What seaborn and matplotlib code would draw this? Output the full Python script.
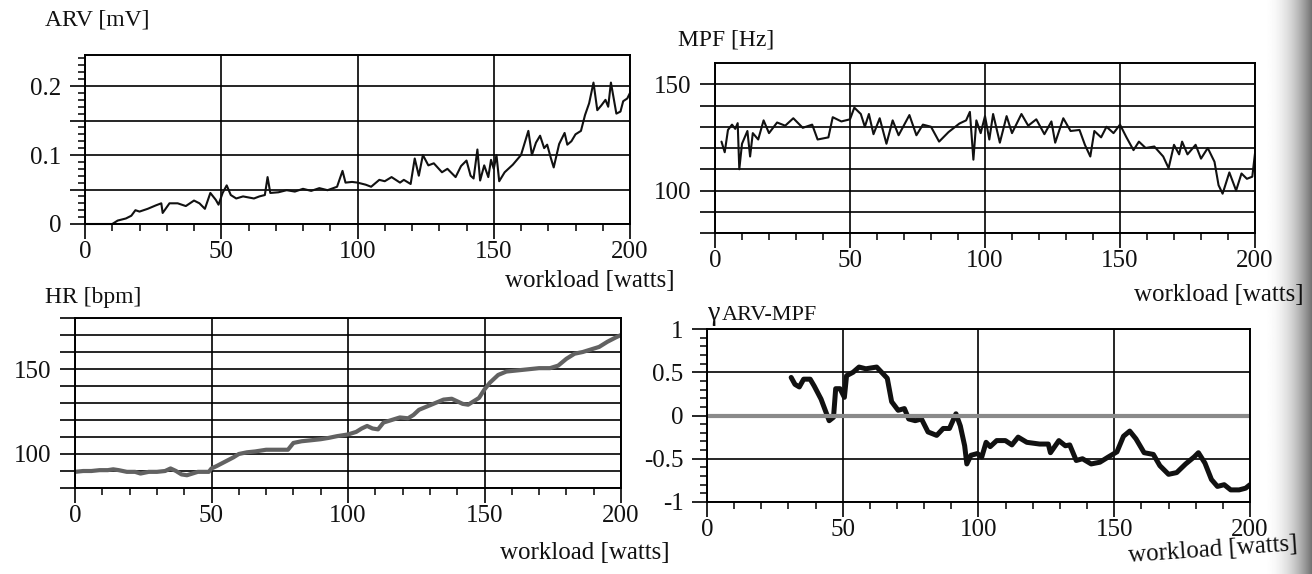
import numpy as np
import matplotlib
matplotlib.use("Agg")
import matplotlib.pyplot as plt
import seaborn as sns

# workload [watts] vs. signal values
arv_x = [0, 5, 10, 12, 15, 17, 18.5, 20, 23, 26, 28, 28.5, 31, 34, 37, 40, 42, 44, 46, 48,
         49, 50.5, 52, 53.5, 55.5, 58, 62, 64, 66, 67, 68, 71, 74, 77, 80, 83, 86, 89, 92.5,
         94.5, 95.6, 98, 100, 103, 105, 108, 110, 112.5, 115.6, 117, 119.5, 121, 122.5, 124,
         126, 128, 131, 133, 136, 138, 140, 141.5, 142.6, 144, 145, 146.5, 148, 149, 150, 151,
         152, 154, 157, 160, 162.7, 164, 165.5, 167, 168.5, 169.6, 171, 172, 174, 176, 177,
         178.5, 180, 182, 183.5, 185, 186.6, 188, 189.5, 191, 192, 193, 195, 196.5, 197.5,
         199, 200]
arv_y = [0.0, 0.0, 0.0, 0.005, 0.008, 0.012, 0.02, 0.018, 0.022, 0.027, 0.03, 0.016, 0.03,
         0.03, 0.026, 0.034, 0.03, 0.022, 0.045, 0.035, 0.028, 0.045, 0.056, 0.042, 0.037,
         0.04, 0.037, 0.04, 0.042, 0.068, 0.045, 0.046, 0.049, 0.047, 0.051, 0.048, 0.052,
         0.049, 0.054, 0.077, 0.06, 0.061, 0.06, 0.057, 0.054, 0.064, 0.062, 0.068, 0.06,
         0.064, 0.058, 0.095, 0.07, 0.1, 0.085, 0.088, 0.075, 0.08, 0.068, 0.084, 0.092, 0.07,
         0.066, 0.108, 0.063, 0.085, 0.068, 0.093, 0.08, 0.1, 0.062, 0.075, 0.086, 0.1, 0.135,
         0.1, 0.118, 0.128, 0.11, 0.115, 0.095, 0.082, 0.116, 0.132, 0.115, 0.12, 0.13, 0.135,
         0.158, 0.175, 0.205, 0.165, 0.172, 0.18, 0.17, 0.205, 0.16, 0.163, 0.178, 0.182, 0.19]

mpf_x = [2.4, 3.6, 4.8, 6.3, 7.5, 8.4, 9, 10, 12, 13, 14, 16, 18, 20, 23, 26, 29, 32.5, 36,
         38, 42, 43.6, 46.8, 50, 51.6, 54, 55.5, 57, 58.7, 61, 63.5, 65.8, 68, 72, 74.6, 77,
         80, 83, 86.5, 90.5, 93, 94.4, 95.7, 96.8, 98.4, 100, 101.6, 103, 105.5, 108, 110,
         113.5, 116, 119, 122, 124.6, 126, 129, 131.7, 135, 137, 139, 140.5, 143, 145, 147.6,
         150, 152.4, 155, 157, 159.5, 162.7, 166, 168, 170, 171.9, 173, 175, 178, 180, 182.5,
         185, 186.5, 188, 190.5, 193, 195, 197, 199, 200]
mpf_y = [123, 118, 128.5, 131, 129, 131.7, 110, 122, 128, 116, 127, 124, 133, 127, 132,
         130.5, 134, 129.5, 131, 124, 125, 134.5, 132.5, 133.5, 139, 136, 130, 136, 126.5,
         134, 122, 133, 126, 135.5, 126, 131, 130, 123, 127.5, 131.5, 133, 137, 114.5, 133,
         127, 135, 124, 136, 122.5, 135, 127, 136, 130.5, 133.5, 126.5, 132.5, 122.5, 134,
         128, 128.5, 121.5, 116, 128, 125, 130, 127, 131, 125, 119, 123, 120, 120.7, 116,
         110.5, 121.5, 117, 123, 117, 121.5, 115, 120, 113.5, 102.5, 98.5, 108.5, 100, 108,
         105.5, 106.5, 117.5]

hr_x = [0, 3, 6, 9, 12, 14, 16, 19, 22, 24, 27, 30, 33, 35, 37, 39, 41, 43, 45, 47, 49, 50,
        52, 55, 58, 60, 63, 66, 70, 74, 78, 80, 83, 86, 90, 93, 96, 100, 103, 105, 107, 109,
        111, 113, 116, 119, 122, 124, 126, 129, 132, 135, 138, 140, 142, 144, 146, 148, 150,
        152, 155, 158, 161, 164, 167, 170, 174, 177, 180, 183, 186, 189, 192, 195, 198, 200]
hr_y = [89.5, 90, 90, 90.5, 90.5, 91, 90.5, 89.5, 89.5, 88.5, 89.5, 89.5, 90, 91.5, 90, 88,
        87.5, 88.5, 89.5, 89.5, 89.5, 91.5, 93, 95.5, 98, 100, 101, 101.5, 102.5, 102.5,
        102.5, 106.5, 107.5, 108, 108.7, 109.5, 110.5, 111.5, 113, 115, 116.5, 115, 114.5,
        118.5, 120, 121.5, 121, 123, 126, 128, 130, 132, 132.5, 131, 129.5, 129, 131, 133,
        138, 142, 146.5, 148.5, 149, 149.5, 150, 150.5, 150.5, 152, 156, 159, 160, 161.5,
        163, 166, 168.5, 170]

gam_x = [31, 32.4, 34, 35.6, 38, 39.5, 42, 45, 46.6, 47.4, 49, 50.6, 51.4, 53.8, 56, 58.5,
         62.5, 64, 66.4, 68, 70.4, 72.7, 74.3, 76.7, 79, 81.4, 84.6, 87, 89.3, 91.7, 93.3,
         94.9, 95.7, 97.2, 99.6, 101.2, 102.8, 104.3, 106.7, 109.9, 112.3, 114.6, 117.8,
         122.5, 125.7, 126.5, 129.6, 132, 133.6, 136, 138.3, 141.5, 144.7, 147.8, 151, 153.4,
         155.7, 158, 161, 164.4, 166.8, 170, 173, 176.3, 179.4, 181, 183.4, 185.8, 188,
         190.5, 192.9, 196, 198.4, 200]
gam_y = [0.44, 0.36, 0.33, 0.42, 0.42, 0.34, 0.19, -0.06, -0.02, 0.31, 0.31, 0.21, 0.46,
         0.5, 0.56, 0.54, 0.56, 0.51, 0.43, 0.16, 0.06, 0.08, -0.04, -0.06, -0.04, -0.19,
         -0.23, -0.15, -0.15, 0.02, -0.12, -0.35, -0.56, -0.46, -0.44, -0.48, -0.31, -0.36,
         -0.29, -0.29, -0.34, -0.25, -0.31, -0.33, -0.33, -0.43, -0.29, -0.35, -0.34, -0.52,
         -0.5, -0.56, -0.54, -0.48, -0.42, -0.24, -0.18, -0.27, -0.43, -0.45, -0.58, -0.68,
         -0.66, -0.56, -0.48, -0.43, -0.55, -0.74, -0.82, -0.8, -0.86, -0.86, -0.84, -0.8]

x_ticks = [0, 50, 100, 150, 200]

W, H = 1312, 574
sns.set_theme(style="ticks")
plt.rcParams['font.family'] = ['Liberation Serif', 'DejaVu Serif']

fig = plt.figure(figsize=(W / 100, H / 100), dpi=100)


def box(l, t, r, b):
    return [l / W, 1 - b / H, (r - l) / W, (b - t) / H]


def panel(rect, ylim, yticks, ylabels, yminor=None):
    ax = fig.add_axes(box(*rect))
    ax.set_xlim(0, 200)
    ax.set_ylim(*ylim)
    ax.set_xticks(x_ticks)
    ax.set_xticklabels([str(t) for t in x_ticks])
    ax.set_xticks(np.arange(0, 201, 10), minor=True)
    ax.set_yticks(yticks)
    ax.set_yticklabels(ylabels)
    if yminor is not None:
        ax.set_yticks(yminor, minor=True)
    ax.grid(True, color="black", lw=1.2)
    ax.tick_params(which="both", bottom=True, left=True, top=False, right=False)
    ax.tick_params(which="major", direction="out", length=11, width=1.2,
                   color="black", labelsize=18, labelcolor="#111", pad=1)
    ax.tick_params(which="minor", direction="out", length=5, width=1.1, color="black")
    ax.tick_params(axis="y", which="major", pad=6)
    for s in ax.spines.values():
        s.set_visible(True)
        s.set_color("black")
        s.set_linewidth(1.4)
    ax.set_xlabel("")
    ax.set_ylabel("")
    return ax


def label(x, y, s, size=18, **kw):
    fig.text(x / W, 1 - y / H, s, fontsize=size, color="#111", va="center", **kw)


# right-edge page shadow of the scan
sh = fig.add_axes(box(1262, 0, 1312, 574))
grad = np.linspace(0, 1, 60) ** 2.2
sh.imshow(1 - 0.55 * grad[None, :], cmap="gray", vmin=0, vmax=1, aspect="auto")
sh.axis("off")

# ARV
ax1 = panel((85, 55, 630, 224), (0, 0.245),
            [0, 0.05, 0.1, 0.15, 0.2], ["0", "", "0.1", "", "0.2"],
            yminor=np.arange(0, 0.245, 0.01))
sns.lineplot(x=arv_x, y=arv_y, ax=ax1, color="#111", lw=1.5, estimator=None, sort=False,
             clip_on=False)
label(45, 20, "ARV [mV]", 17)
label(505, 281, "workload [watts]", 18)

# MPF
ax2 = panel((715, 63, 1255, 233), (80, 160),
            list(range(80, 151, 10)), ["", "", "100", "", "", "", "", "150"])
sns.lineplot(x=mpf_x, y=mpf_y, ax=ax2, color="#111", lw=1.5, estimator=None, sort=False)
label(678, 40, "MPF [Hz]", 17)
label(1134, 295, "workload [watts]", 18)

# HR
ax3 = panel((75, 318, 621, 488), (80, 180),
            list(range(80, 181, 10)),
            ["", "", "100", "", "", "", "", "150", "", "", ""])
sns.lineplot(x=hr_x, y=hr_y, ax=ax3, color="#626262", lw=3.0, estimator=None, sort=False)
label(45, 298, "HR [bpm]", 17)
label(500, 553, "workload [watts]", 18)

# correlation coefficient
ax4 = panel((707, 329, 1250, 502), (-1.0, 1.0),
            [-1, -0.5, 0, 0.5, 1], ["-1", "-0.5", "0", "0.5", "1"],
            yminor=np.arange(-1, 1.01, 0.1))
ax4.axhline(0, color="#8a8a8a", lw=3, zorder=2.5)
sns.lineplot(x=gam_x, y=gam_y, ax=ax4, color="#111", lw=3.6, estimator=None, sort=False)
label(708, 314, "γ", 20)
label(722, 316, "ARV-MPF", 16)
label(1128, 556, "workload [watts]", 18, rotation=4, rotation_mode="anchor")

fig.savefig("out.png", dpi=100)
